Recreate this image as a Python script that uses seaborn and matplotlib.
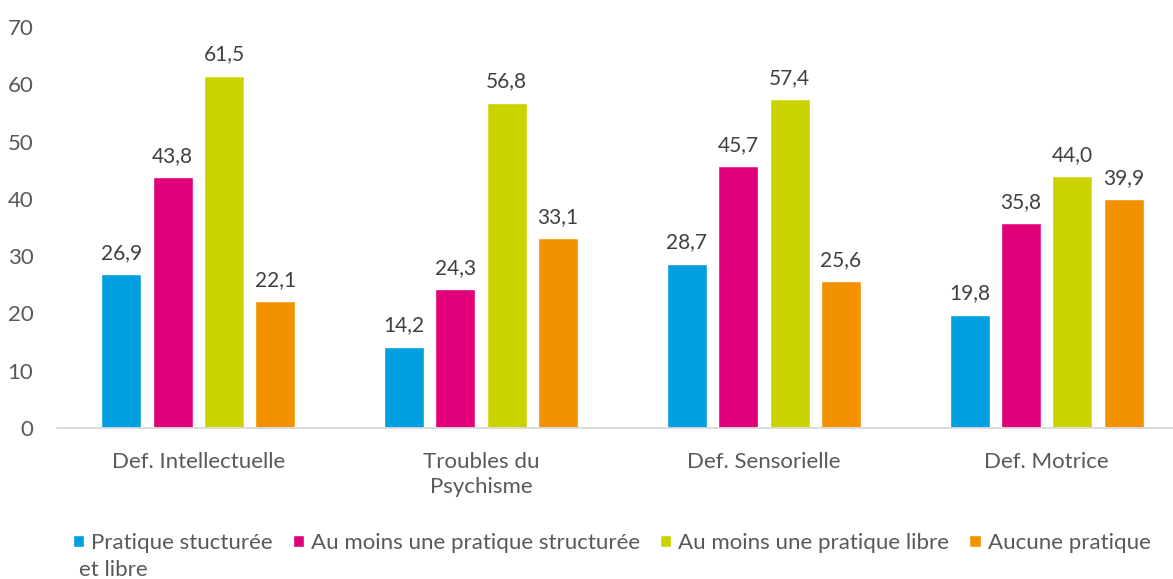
import seaborn as sns
import matplotlib.pyplot as plt
import pandas as pd

# values
categories = ['Def. Intellectuelle', 'Troubles du Psychisme', 'Def. Sensorielle', 'Def. Motrice']
tick_labels = ['Def. Intellectuelle', 'Troubles du\nPsychisme', 'Def. Sensorielle', 'Def. Motrice']
series = ['Pratique stucturée et libre', 'Au moins une pratique structurée',
          'Au moins une pratique libre', 'Aucune pratique']
structuree_libre = [26.9, 14.2, 28.7, 19.8]
au_moins_structuree = [43.8, 24.3, 45.7, 35.8]
au_moins_libre = [61.5, 56.8, 57.4, 44.0]
aucune = [22.1, 33.1, 25.6, 39.9]
yticks = [0, 10, 20, 30, 40, 50, 60, 70]
colors = ['#009FDF', '#E2007A', '#CAD300', '#F39200']

values = [structuree_libre, au_moins_structuree, au_moins_libre, aucune]
rows = []
for s, vals in zip(series, values):
    for c, v in zip(categories, vals):
        rows.append({'categorie': c, 'pratique': s, 'valeur': v})
df = pd.DataFrame(rows)

sns.set_style('white')
plt.rcParams['font.family'] = ['Lato', 'DejaVu Sans']
txt = '#595959'
fs = 16

fig = plt.figure(figsize=(11.73, 5.79), dpi=100)
ax = fig.add_axes([57 / 1173, 151 / 579, 1131 / 1173, 401 / 579])

sns.barplot(data=df, x='categorie', y='valeur', hue='pratique', order=categories,
            hue_order=series, palette=colors, width=0.726, gap=0.22,
            errorbar=None, saturation=1, legend=False, ax=ax)

for cont in ax.containers:
    ax.bar_label(cont, labels=[f'{b.get_height():.1f}'.replace('.', ',') for b in cont],
                 padding=8, fontsize=15, color='#404040')

ax.set_xlim(-0.5, 3.5)
ax.set_ylim(0, 70)
ax.set_yticks(yticks)
ax.set_yticklabels([str(t) for t in yticks])
ax.set_xticks(range(len(categories)))
ax.set_xticklabels(tick_labels, linespacing=1.35)
ax.set_xlabel('')
ax.set_ylabel('')
ax.tick_params(axis='y', length=0, pad=17, labelsize=fs, labelcolor=txt)
ax.tick_params(axis='x', length=0, pad=17, labelsize=fs, labelcolor=txt)
for side in ['top', 'right', 'left']:
    ax.spines[side].set_visible(False)
ax.spines['bottom'].set_color('#D9D9D9')
ax.spines['bottom'].set_linewidth(1.3)
ax.grid(False)

# legend: first label wraps onto a second line as in the original
leg_labels = [series[0].rsplit(' ', 2)[0]] + series[1:]
leg = fig.legend(ax.containers, leg_labels, ncol=4, frameon=False,
                 loc='center left', bbox_to_anchor=(73 / 1173, 1 - 543 / 579),
                 fontsize=fs, handlelength=0.5, handleheight=0.5,
                 handletextpad=0.32, columnspacing=0.9, borderpad=0, borderaxespad=0)
for t in leg.get_texts():
    t.set_color(txt)

fig.canvas.draw()
bb = leg.get_texts()[0].get_window_extent()
fig.text(bb.x0 / 1173 - 0.010, 1 - 570 / 579, ' '.join(series[0].rsplit(' ', 2)[1:]),
         fontsize=fs, color=txt, va='center', ha='left')

fig.savefig('out.png', dpi=100)
